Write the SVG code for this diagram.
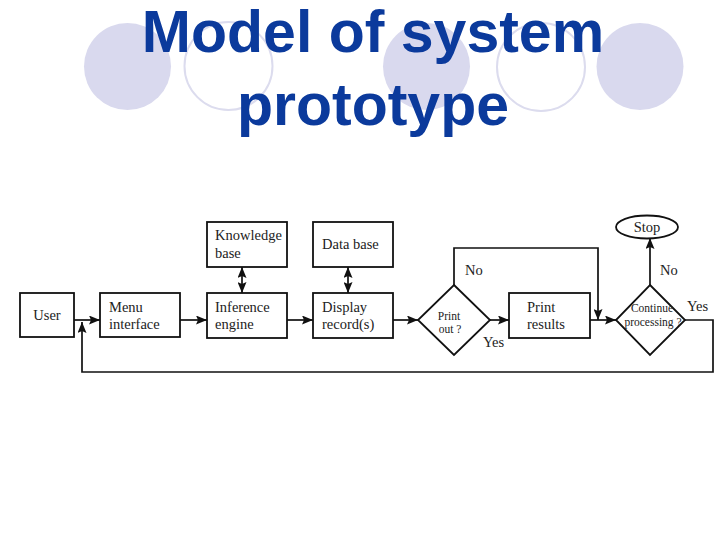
<svg xmlns="http://www.w3.org/2000/svg" width="720" height="540" viewBox="0 0 720 540">
<defs>
<marker id="ah" viewBox="0 0 11 9" refX="11" refY="4.5" markerWidth="11" markerHeight="9" markerUnits="userSpaceOnUse" orient="auto-start-reverse">
<path d="M0,0 L11,4.5 L0,9 L2,4.5 Z" fill="#111"/>
</marker>
<style>
.bg{fill:#d9d9ee}
.bgo{fill:none;stroke:#dcdcee;stroke-width:2}
.title{font-family:"Liberation Sans",Arial,sans-serif;font-weight:bold;font-size:59px;fill:#0b3a9c;text-anchor:middle}
.box{fill:#fff;stroke:#111;stroke-width:1.8}
.t{font-family:"Liberation Serif","Times New Roman",serif;font-size:14.5px;fill:#222}
.s{font-family:"Liberation Serif","Times New Roman",serif;font-size:11.5px;fill:#222;text-anchor:middle}
.c{fill:none;stroke:#111;stroke-width:1.7}
</style>
</defs>
<rect width="720" height="540" fill="#fff"/>
<g id="background">
<circle class="bg" cx="127.5" cy="66.5" r="43.5"/>
<circle class="bgo" cx="228.5" cy="66" r="44"/>
<circle class="bg" cx="426.5" cy="66.5" r="43.5"/>
<circle class="bgo" cx="541" cy="67" r="44"/>
<circle class="bg" cx="640" cy="66.5" r="43.5"/>
</g>
<g id="title">
<text class="title" x="373" y="52">Model of system</text>
<text class="title" x="373" y="125">prototype</text>
</g>
<g id="connectors">
<path class="c" d="M74,320 H100" marker-end="url(#ah)"/>
<path class="c" d="M180,320 H207" marker-end="url(#ah)"/>
<path class="c" d="M287,320 H313" marker-end="url(#ah)"/>
<path class="c" d="M393,320 H418" marker-end="url(#ah)"/>
<path class="c" d="M490,320 H509" marker-end="url(#ah)"/>
<path class="c" d="M590,320 H616" marker-end="url(#ah)"/>
<path class="c" d="M242,267 V293" marker-start="url(#ah)" marker-end="url(#ah)"/>
<path class="c" d="M348,267 V293" marker-start="url(#ah)" marker-end="url(#ah)"/>
<path class="c" d="M454,285 V248 H598 V320" marker-end="url(#ah)"/>
<path class="c" d="M650,285 V238" stroke="#333" marker-end="url(#ah)"/>
<path class="c" d="M685,320 H713 V372 H82 V322" marker-end="url(#ah)"/>
</g>
<g id="user">
<rect class="box" x="20" y="293" width="54" height="44"/>
<text class="t" x="47" y="320" text-anchor="middle">User</text>
</g>
<g id="menu-interface">
<rect class="box" x="100" y="293" width="80" height="44"/>
<text class="t" x="109" y="312">Menu</text>
<text class="t" x="109" y="329">interface</text>
</g>
<g id="knowledge-base">
<rect class="box" x="207" y="222" width="80" height="45"/>
<text class="t" x="215" y="240">Knowledge</text>
<text class="t" x="215" y="258">base</text>
</g>
<g id="inference-engine">
<rect class="box" x="207" y="293" width="80" height="45"/>
<text class="t" x="215" y="312">Inference</text>
<text class="t" x="215" y="329">engine</text>
</g>
<g id="data-base">
<rect class="box" x="313" y="222" width="80" height="45"/>
<text class="t" x="322" y="249">Data base</text>
</g>
<g id="display-records">
<rect class="box" x="313" y="293" width="80" height="45"/>
<text class="t" x="322" y="312">Display</text>
<text class="t" x="322" y="329">record(s)</text>
</g>
<g id="print-out">
<path class="box" d="M454,285 L490,320 L454,355 L418,320 Z"/>
<text class="s" x="449" y="320">Print</text>
<text class="s" x="450" y="333">out ?</text>
<text class="t" x="465" y="275">No</text>
<text class="t" x="483" y="347">Yes</text>
</g>
<g id="print-results">
<rect class="box" x="509" y="293" width="81" height="45"/>
<text class="t" x="527" y="312">Print</text>
<text class="t" x="527" y="329">results</text>
</g>
<g id="continue-processing">
<path class="box" d="M650,285 L685,320 L650,355 L616,320 Z"/>
<text class="s" x="652" y="312">Continue</text>
<text class="s" x="653" y="326">processing ?</text>
<text class="t" x="660" y="275">No</text>
<text class="t" x="687" y="311">Yes</text>
</g>
<g id="stop">
<ellipse class="box" cx="647" cy="227" rx="31" ry="11.5"/>
<text class="t" x="647" y="232" text-anchor="middle">Stop</text>
</g>
</svg>
